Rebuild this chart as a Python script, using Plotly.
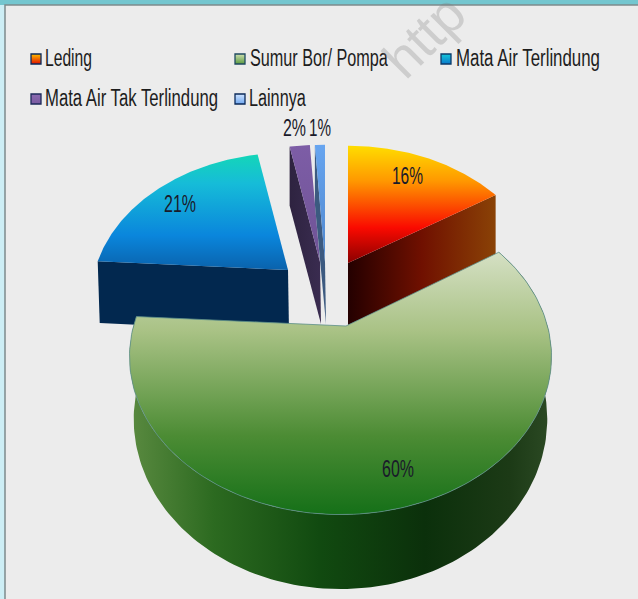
import json
import numpy as np
import plotly.graph_objects as go

categories = ["Leding", "Sumur Bor/ Pompa", "Mata Air Terlindung", "Mata Air Tak Terlindung", "Lainnya"]
values = [16, 60, 21, 2, 1]
labels = ["16%", "60%", "21%", "2%", "1%"]

# layout and projection settings (pixel-like plot coordinates)
W, H = 638, 599
FONT = "Liberation Sans, Arial, sans-serif"
C = 0.194
apex = [(348, 263), (346, 326), (288, 270), (320, 262), (325, 262)]
arc_center = [(348, 263), (340.5, 326), (288, 270), (320, 262), (325, 262)]
scale = [(193, 140), (207, 152), (193, 140), (193, 140), (193, 140)]
label_pos = [(407, 175), (398, 468), (180, 203), (294, 127), (320, 127)]
label_width = [31, 32, 32, 23, 22]
swatch_pos = [(36, 59), (240, 59), (446, 59), (36, 99), (240, 99)]
legend_text_pos = [(68.5, 58), (319, 58), (528, 58), (131.5, 98), (277.5, 98)]
legend_text_width = [47, 138, 144, 173, 57]
top_colors = [
    [[0, "#ffdd00"], [0.3, "#ff9800"], [0.7, "#fa0a00"], [1, "#8a0000"]],
    [[0, "#d5e0c4"], [0.3, "#a9c285"], [0.7, "#4c8c34"], [1, "#157018"]],
    [[0, "#14d6b8"], [0.25, "#16bcd8"], [0.7, "#0a86dc"], [1, "#0a62ac"]],
    [[0, "#7d5da6"], [1, "#6f5396"]],
    [[0, "#67a5f0"], [1, "#4f86cc"]],
]
side_colors = [
    [[0, "#240000"], [0.5, "#701000"], [1, "#8a4206"]],
    [[0, "#5a8a40"], [0.2, "#2c6a20"], [0.45, "#114a10"], [0.7, "#0b300b"], [0.9, "#1c3a16"], [1, "#2c4a24"]],
    [[0, "#02284f"], [1, "#02284f"]],
    [[0, "#2e2340"], [1, "#3a2c50"]],
    [[0, "#3c5a80"], [1, "#3c5a80"]],
]
swatch_colors = [("#ffc000", "#e01000"), ("#cfe0b0", "#5a9a40"), ("#14c8d8", "#0a78cc"), ("#8a6ab0", "#7a5aa0"), ("#d0e4ff", "#70a8f0")]
swatch_lines = ["#0b2a5a", "#1f4a60", "#0b3a6a", "#1c2a5a", "#0b2a5a"]


def project(i, theta):
    u, v = np.sin(theta), np.cos(theta)
    k = 1 + C * v
    ax, ay = arc_center[i]
    sx, sy = scale[i]
    return ax + sx * u / k, ay - sy * v / k


def side_depth(i, theta):
    v = np.cos(theta)
    return 60 / (1 + C * v) if i == 1 else 62 / (1 + 0.05 * v)


shares = np.array(values, float) / sum(values)
edges = np.concatenate([[0], np.cumsum(shares)]) * 2 * np.pi


def grad(cs, kind, arr):
    return dict(type=kind, colorscale=cs, start=float(np.min(arr)), stop=float(np.max(arr)))


def poly(xs, ys, cs, kind, line=None):
    return go.Scatter(x=xs, y=ys, mode="lines", fill="toself", hoverinfo="skip", showlegend=False,
                      line=dict(width=0.8 if line else 0, color=line or "rgba(0,0,0,0)"),
                      fillgradient=grad(cs, kind, xs if kind == "horizontal" else ys))


fig = go.Figure()
for i in [2, 3, 4, 0, 1]:
    t0, t1 = edges[i], edges[i + 1]
    th = np.linspace(t0, t1, 160)
    ax, ay = apex[i]
    ex, ey = project(i, th)
    d = side_depth(i, th)
    if i == 1:
        cx = arc_center[i][0]
        sx = np.concatenate([ex, (cx + (ex - cx) * 0.98)[::-1]])
        sy = np.concatenate([ey, (ey + d)[::-1]])
        fig.add_trace(poly(sx, sy, side_colors[i], "horizontal"))
    else:
        # the cut face that looks toward the viewer
        t = t1 if i == 0 else t0
        px, py = project(i, t)
        dd = side_depth(i, t)
        d0 = side_depth(i, np.pi / 2)
        sx = np.array([ax, px, px + 2 * (1 if i == 2 else 0), ax + (1 if i else 0)])
        sy = np.array([ay, py, py + dd, ay + d0])
        fig.add_trace(poly(sx, sy, side_colors[i], "horizontal"))
    xs = np.concatenate([[ax], ex, [ax]])
    ys = np.concatenate([[ay], ey, [ay]])
    fig.add_trace(poly(xs, ys, top_colors[i], "vertical", line="#5d8f8a" if i == 1 else None))

# legend swatches
for i, name in enumerate(categories):
    lx, ly = swatch_pos[i]
    fig.add_trace(go.Scatter(
        x=[lx], y=[ly], mode="markers", hoverinfo="skip", showlegend=False,
        marker=dict(symbol="square", size=10, color=swatch_colors[i][0],
                    gradient=dict(type="vertical", color=swatch_colors[i][1]),
                    line=dict(color=swatch_lines[i], width=1.3))))

annotations = []
for (lx, ly), name, w in zip(legend_text_pos, categories, legend_text_width):
    annotations.append(dict(x=lx, y=ly, xref="x", yref="y", text=name, showarrow=False, width=w + 2,
                            font=dict(family=FONT, size=23, color="#1d1d1d")))
for (lx, ly), txt, w in zip(label_pos, labels, label_width):
    annotations.append(dict(x=lx, y=ly, xref="x", yref="y", text=txt, showarrow=False, width=w + 2,
                            font=dict(family=FONT, size=24, color="#1a1a2a")))
annotations.append(dict(x=424, y=36, xref="x", yref="y", text="http", showarrow=False, textangle=-45,
                        font=dict(family="Liberation Sans, sans-serif", size=54, color="rgba(125,125,125,0.28)")))

fig.update_layout(
    width=W, height=H, margin=dict(l=0, r=0, t=0, b=0), autosize=False,
    paper_bgcolor="#cdeef5", plot_bgcolor="rgba(0,0,0,0)",
    xaxis=dict(range=[0, W], visible=False, fixedrange=True),
    yaxis=dict(range=[H, 0], visible=False, fixedrange=True),
    annotations=annotations,
    shapes=[
        dict(type="rect", xref="x", yref="y", x0=0, y0=0, x1=W, y1=5, fillcolor="#74c6cf", line_width=0, layer="below"),
        dict(type="rect", xref="x", yref="y", x0=5, y0=5, x1=W + 2, y1=H + 2, fillcolor="#ececec",
             line=dict(color="#7d8a8c", width=1.5), layer="below"),
    ],
)

# Remove the page margin and condense the text (the reference uses a narrow, tall face)
targets = dict(zip(categories + labels, legend_text_width + label_width))
post = """
document.body.style.margin = '0';
document.body.style.overflow = 'hidden';
var targets = %s;
document.querySelectorAll('.annotation-text').forEach(function (el) {
  var t = targets[el.textContent];
  if (!t) return;
  el.setAttribute('textLength', t);
  el.setAttribute('lengthAdjust', 'spacingAndGlyphs');
});
""" % json.dumps(targets)
fig.write_html("out.html", post_script=post, config={"displayModeBar": False})
